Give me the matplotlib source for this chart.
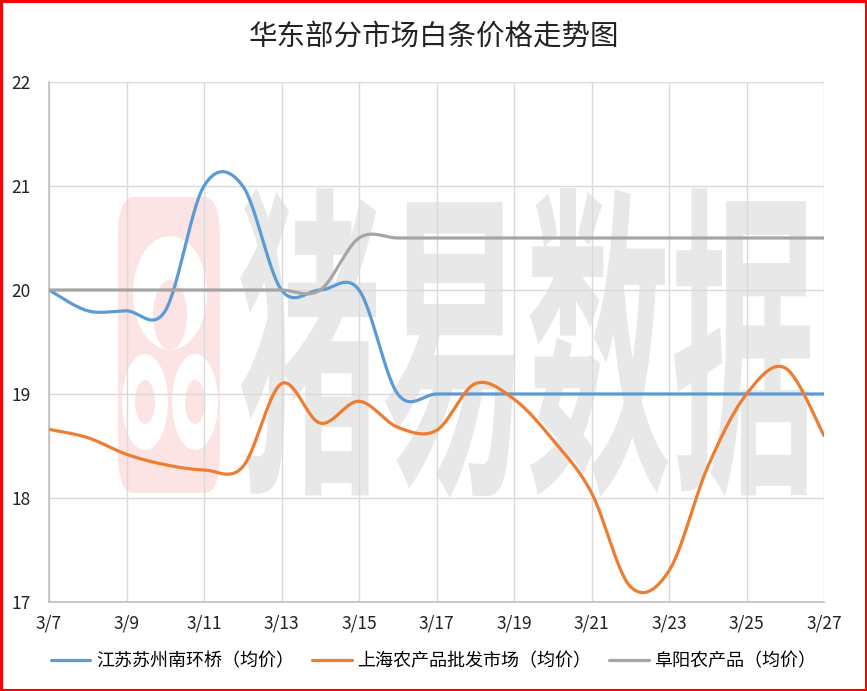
import numpy as np
import matplotlib
matplotlib.use('Agg')
import matplotlib.pyplot as plt
from matplotlib.patches import Rectangle, FancyBboxPatch, Ellipse, PathPatch
from matplotlib.textpath import TextPath
from matplotlib.font_manager import FontProperties
from matplotlib.transforms import Affine2D

plt.rcParams['font.family'] = ['Noto Sans CJK SC', 'DejaVu Sans']

title = '华东部分市场白条价格走势图'
dates = ['3/7', '3/8', '3/9', '3/10', '3/11', '3/12', '3/13', '3/14', '3/15', '3/16', '3/17',
         '3/18', '3/19', '3/20', '3/21', '3/22', '3/23', '3/24', '3/25', '3/26', '3/27']
names = ['江苏苏州南环桥（均价）', '上海农产品批发市场（均价）', '阜阳农产品（均价）']
suzhou = [20.0, 19.8, 19.8, 19.8, 21.0, 21.0, 20.0, 20.0, 20.0, 19.0, 19.0,
          19.0, 19.0, 19.0, 19.0, 19.0, 19.0, 19.0, 19.0, 19.0, 19.0]
shanghai = [18.66, 18.58, 18.42, 18.32, 18.27, 18.30, 19.10, 18.72, 18.93, 18.68, 18.65,
            19.10, 18.95, 18.56, 18.05, 17.15, 17.30, 18.30, 19.00, 19.25, 18.60]
fuyang = [20.0, 20.0, 20.0, 20.0, 20.0, 20.0, 20.0, 20.0, 20.5, 20.5, 20.5,
          20.5, 20.5, 20.5, 20.5, 20.5, 20.5, 20.5, 20.5, 20.5, 20.5]
colors = ['#5B9BD5', '#ED7D31', '#A5A5A5']


def smooth(y, n=30):
    # excel-like smoothed line: bezier segments with catmull-rom control points
    y = np.asarray(y, dtype=float)
    x = np.arange(len(y), dtype=float)
    px = np.concatenate([[x[0]], x, [x[-1]]])
    py = np.concatenate([[y[0]], y, [y[-1]]])
    xs, ys = [], []
    t = np.linspace(0, 1, n)
    for i in range(len(y) - 1):
        p0x, p0y = px[i + 1], py[i + 1]
        p3x, p3y = px[i + 2], py[i + 2]
        p1x = p0x + (px[i + 2] - px[i]) / 6
        p1y = p0y + (py[i + 2] - py[i]) / 6
        p2x = p3x - (px[i + 3] - px[i + 1]) / 6
        p2y = p3y - (py[i + 3] - py[i + 1]) / 6
        b0 = (1 - t) ** 3
        b1 = 3 * (1 - t) ** 2 * t
        b2 = 3 * (1 - t) * t ** 2
        b3 = t ** 3
        xs.append(b0 * p0x + b1 * p1x + b2 * p2x + b3 * p3x)
        ys.append(b0 * p0y + b1 * p1y + b2 * p2y + b3 * p3y)
    return np.concatenate(xs), np.concatenate(ys)


fig = plt.figure(figsize=(8.67, 6.91), dpi=100)
ax = fig.add_axes([49 / 867, 1 - 602 / 691, 775 / 867, 520 / 691])

# watermark logo (pink block with rings)
def px2d(x, y):
    return (x - 49) / 38.75, 22 - (y - 82) / 104.0

lx0, ly0 = px2d(118, 493)
lx1, ly1 = px2d(220, 197)
ax.add_patch(FancyBboxPatch((lx0, ly0), lx1 - lx0, ly1 - ly0,
                            boxstyle='round,pad=0,rounding_size=0.4',
                            mutation_aspect=104 / 38.75 / 2.7,
                            fc='#fce3e4', ec='none', zorder=0.1))
for cx, cy, rx, ry, ix, iy, iy_off in [(170, 293, 37, 57, 17, 35, 22),
                                        (145, 402, 23, 48, 10, 22, 0),
                                        (195, 402, 23, 48, 10, 22, 0)]:
    ex, ey = px2d(cx, cy)
    ax.add_patch(Ellipse((ex, ey), 2 * rx / 38.75, 2 * ry / 104, fc='white', ec='none', zorder=0.15))
    ex2, ey2 = px2d(cx, cy + iy_off)
    ax.add_patch(Ellipse((ex2, ey2), 2 * ix / 38.75, 2 * iy / 104, fc='#fce3e4', ec='none', zorder=0.2))

# watermark text, stretched tall
tp = TextPath((0, 0), '猪易数据', size=1, prop=FontProperties(family='Noto Sans CJK SC', weight='bold'))
bb = tp.get_extents()
bx0, by0 = px2d(240, 498)
bx1, by1 = px2d(810, 188)
tr = Affine2D().translate(-bb.x0, -bb.y0).scale((bx1 - bx0) / bb.width, (by1 - by0) / bb.height).translate(bx0, by0)
ax.add_patch(PathPatch(tr.transform_path(tp), fc='#e8e8e8', ec='none', zorder=0.1))

for vals, c, lab in zip([suzhou, shanghai, fuyang], colors, names):
    sx, sy = smooth(vals)
    ax.plot(sx, sy, color=c, lw=2.3, label=lab, solid_capstyle='round', zorder=3)

ax.set_xlim(0, len(dates) - 1)
ax.set_ylim(17, 22)
ax.set_xticks(range(0, len(dates), 2))
ax.set_xticklabels(dates[::2])
ax.set_yticks([17, 18, 19, 20, 21, 22])
ax.grid(True, color='#d9d9d9', lw=1)
ax.set_axisbelow(True)
for s in ['top', 'right']:
    ax.spines[s].set_visible(False)
for s in ['left', 'bottom']:
    ax.spines[s].set_color('#bfbfbf')
    ax.spines[s].set_linewidth(1.2)
ax.tick_params(length=0, labelsize=12.5, colors='#222222')
ax.tick_params(axis='x', pad=9)
ax.tick_params(axis='y', pad=13)

fig.text(0.5, 1 - 37 / 691, title, ha='center', va='center', fontsize=20.5, color='#222222')

fig.legend(loc='center', bbox_to_anchor=(0.5, 1 - 661 / 691), ncol=3, frameon=False,
           fontsize=13, handlelength=2.2, handletextpad=0.3, columnspacing=1.0)

fig.patches.append(Rectangle((0.0015, 0.002), 0.997, 0.996, transform=fig.transFigure,
                             fill=False, ec='#ff0000', lw=2.2))

fig.savefig('out.png', dpi=100)
